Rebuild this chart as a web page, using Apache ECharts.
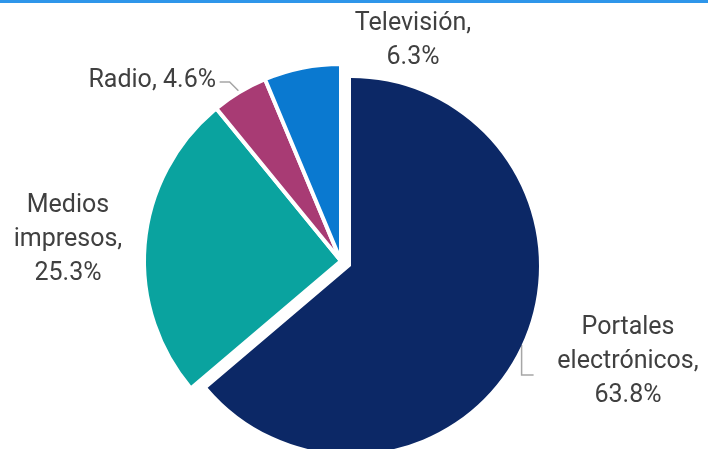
<!DOCTYPE html>
<html>
<head>
<meta charset="utf-8">
<script src="https://cdn.jsdelivr.net/npm/echarts@6/dist/echarts.min.js"></script>
<style>html,body{margin:0;padding:0;background:#fff;}#c{width:708px;height:449px;}</style>
</head>
<body>
<div id="c"></div>
<script>
const categories = ['Portales electrónicos', 'Medios impresos', 'Radio', 'Televisión'];
const values = [63.8, 25.3, 4.6, 6.3];
const labelTexts = ['Portales\nelectrónicos,\n63.8%', 'Medios\nimpresos,\n25.3%', 'Radio, 4.6%', 'Televisión,\n6.3%'];
const colors = ['#0c2866', '#0aa39f', '#a83b74', '#0a79d0'];

const chart = echarts.init(document.getElementById('c'));
const showLine = [true, false, true, false];
// exploded slice (index 0) drawn by its own series; the rest by the other
function buildData(visibleFn) {
  return categories.map((n, i) => {
    const vis = visibleFn(i);
    return {
      name: n,
      value: values[i],
      itemStyle: vis ? { color: colors[i] } : { color: 'rgba(0,0,0,0)', borderWidth: 0 },
      labelLine: { show: vis && showLine[i] },
      label: { show: vis, formatter: labelTexts[i] }
    };
  });
}

const layouts = [
  { x: 628, y: 362, align: 'center' },
  { x: 68, y: 240, align: 'center' },
  { x: 216, y: 81, align: 'right' },
  { x: 413, y: 41, align: 'center' }
];
function labelLayout(p) {
  const L = layouts[p.dataIndex];
  const out = { x: L.x, y: L.y, align: L.align, verticalAlign: 'middle' };
  const pts = p.labelLinePoints;
  if (pts && pts.length) {
    const a = pts[0];
    if (p.dataIndex === 0) {
      out.labelLinePoints = [[a[0], a[1]], [a[0], a[1] + 30], [a[0] + 12, a[1] + 30]];
    } else if (p.dataIndex === 2) {
      out.labelLinePoints = [[a[0], a[1]], [a[0] - 10, a[1] - 10], [a[0] - 20, a[1] - 10]];
    }
  }
  return out;
}
const labelCommon = {
  show: true,
  position: 'outside',
  overflow: 'none',
  fontFamily: 'Roboto',
  fontSize: 25,
  lineHeight: 34,
  color: '#404040'
};
const lineCommon = { show: true, lineStyle: { color: '#a6a6a6', width: 1.5 } };

chart.setOption({
  animation: false,
  graphic: [{ type: 'rect', left: 0, top: 0, shape: { width: 708, height: 3 }, style: { fill: '#2e96ea' } }],
  series: [{
    type: 'pie',
    center: [341, 261],
    radius: 197,
    startAngle: 90,
    clockwise: true,
    silent: true,
    emphasis: { disabled: true },
    itemStyle: { borderColor: '#fff', borderWidth: 4 },
    label: labelCommon,
    labelLine: lineCommon,
    labelLayout: labelLayout,
    data: buildData(i => i !== 0)
  }, {
    type: 'pie',
    center: [351, 266],
    radius: 188,
    startAngle: 90,
    clockwise: true,
    silent: true,
    emphasis: { disabled: true },
    itemStyle: { borderWidth: 0 },
    label: labelCommon,
    labelLine: lineCommon,
    labelLayout: labelLayout,
    data: buildData(i => i === 0)
  }]
});
</script>
</body>
</html>
